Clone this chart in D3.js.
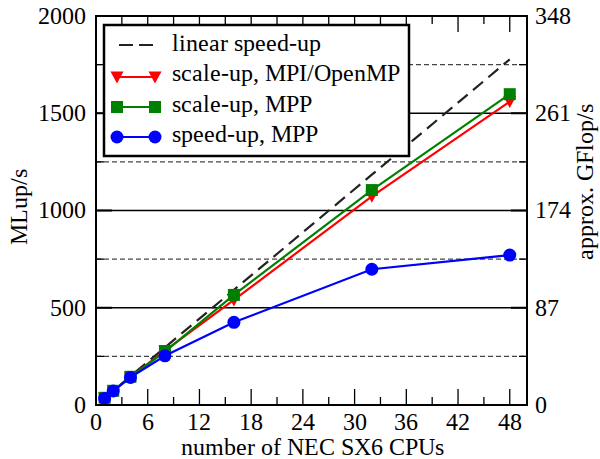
<!DOCTYPE html>
<html><head><meta charset="utf-8">
<script src="https://cdn.jsdelivr.net/npm/d3@7"></script>
<style>
@font-face { font-family: "RefSerif"; src: local("Liberation Serif"), local("LiberationSerif"), local("LiberationSerif-Regular"), local("Liberation Serif Regular"), local("Tinos"), local("Tinos Regular"), local("Times New Roman"), local("TimesNewRomanPSMT"), local("Nimbus Roman"), local("DejaVu Serif"); }
</style>
</head><body style="margin:0">
<script>
const cpus = [1, 2, 4, 8, 16, 32, 48];
const linearSpeedup = [37, 74, 148, 296, 592, 1184, 1777];
const scaleUpHybrid = [36, 72, 143, 280, 540, 1073, 1560];
const scaleUpMPP = [37, 73, 145, 275, 566, 1105, 1598];
const speedUpMPP = [34, 72, 142, 253, 425, 698, 771];
const xTicksMajor = [0, 6, 12, 18, 24, 30, 36, 42, 48];
const yTicksLeft = [0, 500, 1000, 1500, 2000];
const yTicksRight = [0, 87, 174, 261, 348];
const legendLabels = ["linear speed-up", "scale-up, MPI/OpenMP", "scale-up, MPP", "speed-up, MPP"];

const W = 600, H = 459;
const L = 96, R = 527, T = 16, B = 405;
const FONT = "RefSerif, 'Liberation Serif', 'Times New Roman', serif";
const svg = d3.select("body").append("svg").attr("width", W).attr("height", H);

function fitSizes() {
  const probe = svg.append("text").attr("font-family", FONT).attr("font-size", 24).text("number of NEC SX6 CPUs");
  const w1 = probe.node().getComputedTextLength();
  probe.text("scale-up, MPI/OpenMP");
  const w2 = probe.node().getComputedTextLength();
  probe.remove();
  let fs = w1 > 0 ? 24 * 263 / w1 : 25;
  let lfs = w2 > 0 ? 24 * 226 / w2 : 25;
  return [Math.max(22, Math.min(27, fs)), Math.max(22, Math.min(27, lfs))];
}
let [FS, LFS] = fitSizes();

const x = d3.scaleLinear().domain([0, 50]).range([L, R]);
const y = d3.scaleLinear().domain([0, 2000]).range([B, T]);
const yR = d3.scaleLinear().domain([0, 348]).range([B, T]);

// grid
const g = svg.append("g");
[250, 750, 1250, 1750].forEach(v => g.append("line").attr("x1", L).attr("x2", R).attr("y1", y(v)).attr("y2", y(v))
  .attr("stroke", "#444").attr("stroke-width", 1.2).attr("stroke-dasharray", "5,3"));
[500, 1000, 1500].forEach(v => g.append("line").attr("x1", L).attr("x2", R).attr("y1", y(v)).attr("y2", y(v))
  .attr("stroke", "#000").attr("stroke-width", 1.3));

// ticks (inward)
const minorX = d3.range(3, 50, 6);
const tk = svg.append("g").attr("stroke", "#000").attr("stroke-width", 1.3);
xTicksMajor.forEach(v => {
  tk.append("line").attr("x1", x(v)).attr("x2", x(v)).attr("y1", B).attr("y2", B - 16);
  tk.append("line").attr("x1", x(v)).attr("x2", x(v)).attr("y1", T).attr("y2", T + 16);
});
minorX.forEach(v => {
  tk.append("line").attr("x1", x(v)).attr("x2", x(v)).attr("y1", B).attr("y2", B - 8);
  tk.append("line").attr("x1", x(v)).attr("x2", x(v)).attr("y1", T).attr("y2", T + 8);
});
yTicksLeft.forEach(v => {
  tk.append("line").attr("x1", L).attr("x2", L + 16).attr("y1", y(v)).attr("y2", y(v)).attr("stroke-width", 2);
  tk.append("line").attr("x1", R).attr("x2", R - 16).attr("y1", y(v)).attr("y2", y(v)).attr("stroke-width", 2);
});
[250, 750, 1250, 1750].forEach(v => {
  tk.append("line").attr("x1", L).attr("x2", L + 8).attr("y1", y(v)).attr("y2", y(v));
  tk.append("line").attr("x1", R).attr("x2", R - 8).attr("y1", y(v)).attr("y2", y(v));
});

// clip
svg.append("clipPath").attr("id", "clip").append("rect").attr("x", L).attr("y", T).attr("width", R - L).attr("height", B - T);
const plot = svg.append("g").attr("clip-path", "url(#clip)");

const line = d3.line().x(d => x(d[0])).y(d => y(d[1]));
const zip = arr => cpus.map((c, i) => [c, arr[i]]);

plot.append("path").datum(zip(linearSpeedup)).attr("d", line).attr("fill", "none")
  .attr("stroke", "#222").attr("stroke-width", 2.2).attr("stroke-dasharray", "13,7");

const tri = (cx, cy) => `M${cx - 6.5},${cy - 5.5}L${cx + 6.5},${cy - 5.5}L${cx},${cy + 6.5}Z`;
function series(data, color, marker) {
  plot.append("path").datum(zip(data)).attr("d", line).attr("fill", "none").attr("stroke", color).attr("stroke-width", 2.2);
  zip(data).forEach(d => marker(plot, x(d[0]), y(d[1]), color));
}
const mTri = (p, cx, cy, c) => p.append("path").attr("d", tri(cx, cy)).attr("fill", c);
const mSq = (p, cx, cy, c) => p.append("rect").attr("x", cx - 6).attr("y", cy - 6).attr("width", 12).attr("height", 12).attr("fill", c);
const mCirc = (p, cx, cy, c) => p.append("circle").attr("cx", cx).attr("cy", cy).attr("r", 6.5).attr("fill", c);

series(scaleUpHybrid, "#ff0000", mTri);
series(scaleUpMPP, "#008000", mSq);
series(speedUpMPP, "#0000ff", mCirc);

// frame
svg.append("rect").attr("x", L).attr("y", T).attr("width", R - L).attr("height", B - T)
  .attr("fill", "none").attr("stroke", "#000").attr("stroke-width", 2);

// text helper
const txt = (sel, role) => sel.append("text").attr("class", role).attr("font-family", FONT)
  .attr("font-size", role === "leg" ? LFS : FS);

xTicksMajor.forEach(v => txt(svg, "ax").attr("x", x(v)).attr("y", 430).attr("text-anchor", "middle").text(v));
yTicksLeft.forEach(v => txt(svg, "ax").attr("x", 86).attr("y", y(v)).attr("dy", "0.33em").attr("text-anchor", "end").text(v));
yTicksRight.forEach(v => txt(svg, "ax").attr("x", 535).attr("y", yR(v)).attr("dy", "0.33em").attr("text-anchor", "start").text(v));

txt(svg, "ax").attr("x", (L + R) / 2 + 0.5).attr("y", 454.5).attr("text-anchor", "middle").text("number of NEC SX6 CPUs");
txt(svg, "ax").attr("transform", "translate(27,207) rotate(-90)").attr("text-anchor", "middle").text("MLup/s");
txt(svg, "ax").attr("transform", "translate(593,182) rotate(-90)").attr("text-anchor", "middle").text("approx. GFlop/s");

// legend
const lg = svg.append("g");
lg.append("rect").attr("x", 104).attr("y", 25).attr("width", 305).attr("height", 131)
  .attr("fill", "#fff").attr("stroke", "#000").attr("stroke-width", 2.5);
const rows = [45, 77, 107, 137];
const baselines = [51, 81, 112, 142];
const lx1 = 117, lx2 = 155;
lg.append("line").attr("x1", 119).attr("x2", 153).attr("y1", rows[0]).attr("y2", rows[0])
  .attr("stroke", "#222").attr("stroke-width", 2.2).attr("stroke-dasharray", "14,6");
const legendSeries = [["#ff0000", mTri], ["#008000", mSq], ["#0000ff", mCirc]];
legendSeries.forEach(([c, m], i) => {
  const yy = rows[i + 1];
  lg.append("line").attr("x1", lx1).attr("x2", lx2).attr("y1", yy).attr("y2", yy).attr("stroke", c).attr("stroke-width", 2.2);
  m(lg, lx1, yy, c); m(lg, lx2, yy, c);
});
legendLabels.forEach((t, i) => txt(lg, "leg").attr("x", 172).attr("y", baselines[i]).text(t));

// refit once the local serif face is ready
if (document.fonts && document.fonts.load) {
  document.fonts.load("24px RefSerif").then(() => {
    [FS, LFS] = fitSizes();
    svg.selectAll("text.ax").attr("font-size", FS);
    svg.selectAll("text.leg").attr("font-size", LFS);
  }).catch(() => {});
}
</script>
</body></html>
